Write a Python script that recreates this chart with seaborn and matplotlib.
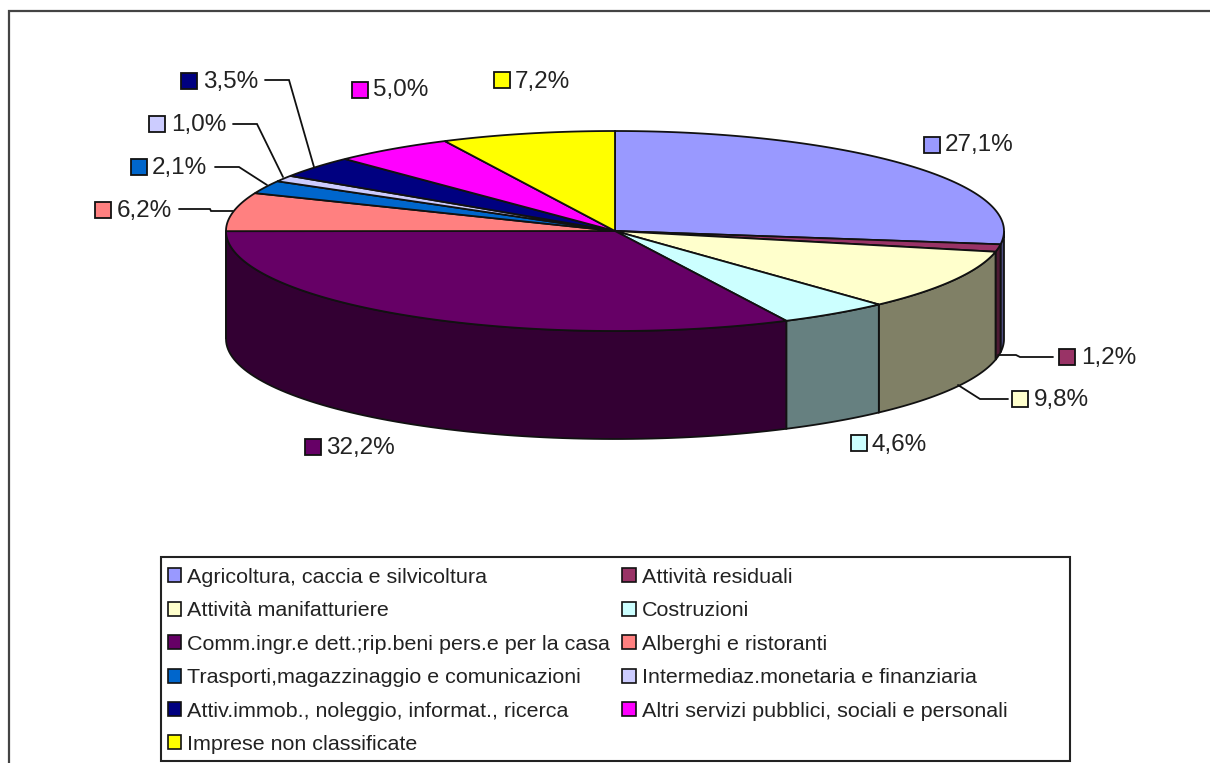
import numpy as np
import seaborn as sns
import matplotlib
matplotlib.use("Agg")
import matplotlib.pyplot as plt
from matplotlib.patches import Polygon, Rectangle

categories = [
    "Agricoltura, caccia e silvicoltura", "Attività residuali", "Attività manifatturiere",
    "Costruzioni", "Comm.ingr.e dett.;rip.beni pers.e per la casa", "Alberghi e ristoranti",
    "Trasporti,magazzinaggio e comunicazioni", "Intermediaz.monetaria e finanziaria",
    "Attiv.immob., noleggio, informat., ricerca", "Altri servizi pubblici, sociali e personali",
    "Imprese non classificate",
]
values = [27.1, 1.2, 9.8, 4.6, 32.2, 6.2, 2.1, 1.0, 3.5, 5.0, 7.2]
value_labels = ["27,1%", "1,2%", "9,8%", "4,6%", "32,2%", "6,2%", "2,1%", "1,0%", "3,5%", "5,0%", "7,2%"]
hex_colors = ["#9999FF", "#993366", "#FFFFCC", "#CCFFFF", "#660066", "#FF8080",
              "#0066CC", "#CCCCFF", "#000080", "#FF00FF", "#FFFF00"]

sns.set_theme(style="white")
plt.rcParams["font.family"] = ["Liberation Sans", "DejaVu Sans"]
palette = sns.color_palette(hex_colors)

fig = plt.figure(figsize=(12.1, 7.63), dpi=100)
ax = fig.add_axes([0, 0, 1, 1])
ax.set_xlim(0, 1210)
ax.set_ylim(763, 0)
ax.axis("off")

CX, CY, RX, RY, DEPTH = 615, 231, 389, 100, 108
EDGE = "#111111"
LW = 1.3

# angles run clockwise from the top of the ellipse
bounds = np.concatenate([[0], np.cumsum(values)]) / np.sum(values) * 2 * np.pi

# outer frame
ax.add_patch(Rectangle((9, 11), 1300, 900, fc="white", ec="#444444", lw=1.6, zorder=0))

# front walls
for i, col in enumerate(palette):
    a = max(bounds[i], np.pi / 2)
    b = min(bounds[i + 1], 3 * np.pi / 2)
    if b <= a:
        continue
    t = np.linspace(a, b, 80)
    xs = CX + RX * np.sin(t)
    ys = CY - RY * np.cos(t)
    poly = np.r_[np.c_[xs, ys], np.c_[xs[::-1], ys[::-1] + DEPTH]]
    dark = tuple(c * 0.5 for c in col)
    ax.add_patch(Polygon(poly, closed=True, fc=dark, ec=EDGE, lw=LW, zorder=2))

# top faces
for i, col in enumerate(palette):
    t = np.linspace(bounds[i], bounds[i + 1], 120)
    xs = CX + RX * np.sin(t)
    ys = CY - RY * np.cos(t)
    poly = np.r_[[[CX, CY]], np.c_[xs, ys]]
    ax.add_patch(Polygon(poly, closed=True, fc=col, ec=EDGE, lw=LW, zorder=3))

# data labels: key square and text
key_xy = [(924, 137), (1059, 349), (1012, 391), (851, 435), (305, 439), (95, 202),
          (131, 159), (149, 116), (181, 73), (352, 82), (494, 72)]
text_xy = [(945, 145), (1081, 358), (1034, 400), (872, 445), (326, 448), (117, 211),
           (152, 168), (171, 125), (203, 82), (373, 90), (515, 82)]
for (kx, ky), (tx, ty), lab, col in zip(key_xy, text_xy, value_labels, palette):
    ax.add_patch(Rectangle((kx, ky), 16, 16, fc=col, ec=EDGE, lw=1.3, zorder=4))
    ax.text(tx, ty, lab, fontsize=17.5, color="#222222", va="center", ha="left", zorder=4)

# leader lines
leaders = [
    [(265, 80), (289, 80), (314, 167)],
    [(233, 124), (257, 124), (283, 177)],
    [(215, 167), (239, 167), (267, 185)],
    [(179, 209), (210, 209), (211, 211), (233, 211)],
    [(998, 355), (1016, 355), (1020, 357), (1053, 357)],
    [(958, 385), (980, 399), (1008, 399)],
]
for line in leaders:
    lx, ly = zip(*line)
    ax.plot(lx, ly, color=EDGE, lw=1.3, zorder=4, solid_joinstyle="miter")

# legend frame and entries (row-wise order in the reference, matplotlib fills by column)
ax.add_patch(Rectangle((161, 557), 909, 204, fc="white", ec="#222222", lw=1.5, zorder=1))
handles = [Rectangle((0, 0), 1, 1, fc=c, ec=EDGE, lw=1.2) for c in palette]
order = [0, 2, 4, 6, 8, 10, 1, 3, 5, 7, 9]
leg = ax.legend([handles[i] for i in order], [categories[i] for i in order],
                ncol=2, loc="upper left", bbox_to_anchor=(168, 568),
                bbox_transform=ax.transData, fontsize=15.45,
                frameon=False,
                handlelength=0.62, handleheight=0.62, handletextpad=0.28,
                labelspacing=0.67, columnspacing=0.56, borderpad=0, borderaxespad=0,
                labelcolor="#222222")

fig.savefig("out.png", dpi=100)
